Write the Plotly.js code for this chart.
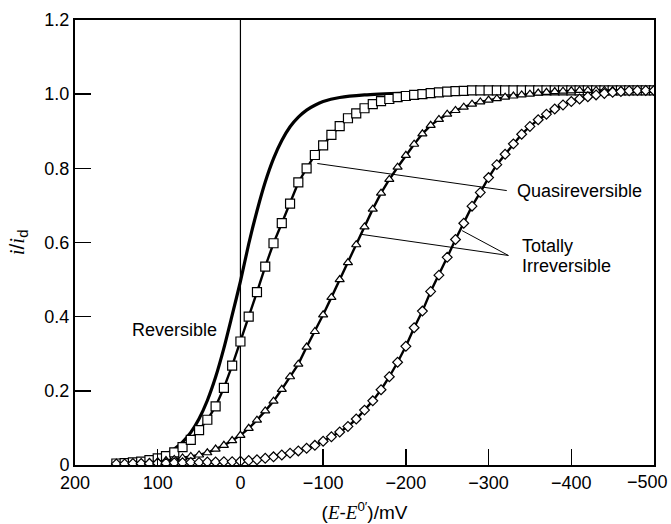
<!DOCTYPE html>
<html>
<head>
<meta charset="utf-8">
<script src="https://cdn.plot.ly/plotly-3.0.1.min.js"></script>
<style>html,body{margin:0;padding:0;background:#fff;}#chart{width:671px;height:524px;}</style>
</head>
<body>
<div id="chart"></div>
<script>
// Potential E - E0' (mV)
const potE = [150,140,130,120,110,100,90,80,70,60,50,40,30,20,10,0,-10,-20,-30,-40,-50,-60,-70,-80,-90,-100,-110,-120,-130,-140,-150,-160,-170,-180,-190,-200,-210,-220,-230,-240,-250,-260,-270,-280,-290,-300,-310,-320,-330,-340,-350,-360,-370,-380,-390,-400,-410,-420,-430,-440,-450,-460,-470,-480,-490,-500];

// Reversible (solid line)
const revE = [150,130,120,110,100,90,80,70,60,50,40,30,20,10,0,-10,-20,-30,-40,-50,-60,-70,-80,-90,-100,-120,-150,-200,-230];
const revI = [0.003,0.006,0.009,0.014,0.020,0.029,0.043,0.062,0.088,0.125,0.174,0.237,0.315,0.404,0.495,0.596,0.685,0.763,0.826,0.875,0.912,0.938,0.957,0.970,0.980,0.991,0.998,1.003,1.005];

// Quasireversible (squares)
const quasiI = [0.004,0.005,0.007,0.009,0.013,0.018,0.024,0.034,0.048,0.068,0.094,0.122,0.158,0.208,0.268,0.333,0.400,0.466,0.535,0.598,0.652,0.705,0.762,0.800,0.836,0.862,0.890,0.914,0.935,0.948,0.962,0.973,0.981,0.987,0.992,0.995,0.998,1.000,1.003,1.005,1.007,1.008,1.009,1.010,1.010,1.010,1.010,1.010,1.010,1.010,1.010,1.010,1.010,1.010,1.010,1.010,1.010,1.010,1.010,1.010,1.010,1.010,1.010,1.010,1.010,1.010];

// Totally irreversible, faster (triangles)
const irr1I = [0.002,0.003,0.004,0.005,0.007,0.009,0.012,0.015,0.019,0.023,0.027,0.033,0.043,0.053,0.066,0.080,0.099,0.121,0.146,0.172,0.204,0.238,0.272,0.318,0.360,0.405,0.452,0.500,0.546,0.594,0.642,0.690,0.733,0.770,0.803,0.835,0.865,0.893,0.916,0.932,0.946,0.956,0.965,0.973,0.979,0.984,0.988,0.992,0.995,0.998,1.000,1.003,1.005,1.007,1.008,1.009,1.010,1.010,1.010,1.010,1.010,1.010,1.010,1.010,1.010,1.010];

// Totally irreversible, slower (diamonds)
const irr2I = [0.003,0.003,0.004,0.004,0.004,0.005,0.005,0.006,0.006,0.007,0.007,0.008,0.008,0.009,0.009,0.010,0.012,0.014,0.018,0.022,0.027,0.032,0.038,0.045,0.053,0.064,0.076,0.089,0.104,0.124,0.148,0.173,0.203,0.238,0.277,0.320,0.370,0.415,0.468,0.512,0.560,0.608,0.652,0.698,0.735,0.775,0.810,0.838,0.866,0.892,0.913,0.931,0.946,0.960,0.971,0.980,0.987,0.993,0.998,1.002,1.005,1.007,1.009,1.010,1.010,1.010];

const xTickVals = [200,100,0,-100,-200,-300,-400,-500];
const xTickText = ['200','100','0','\u2212100','\u2212200','\u2212300','\u2212400',''];
const xLastTickLabel = '\u2212500';   // drawn right-aligned so it stays inside the page, as in the original
const yTickVals = [0,0.2,0.4,0.6,0.8,1.0,1.2];
const yTickText = ['0','0.2','0.4','0.6','0.8','1.0','1.2'];

const labels = ['Reversible','Quasireversible','Totally','Irreversible'];

const FONT = 'Liberation Sans, Arial, Helvetica, sans-serif';
const SERIF = "Liberation Serif, Times New Roman, serif";
const it = s => '<span style="font-family:' + SERIF + ';font-style:italic">' + s + '</span>';

const mk = (sym, size) => ({symbol: sym, size: size, color: '#ffffff', line: {color: '#000', width: 1.2}});

const traces = [
  {x: revE, y: revI, mode: 'lines', line: {color: '#000', width: 3.2, shape: 'spline', smoothing: 0.6}, name: 'Reversible', hoverinfo: 'x+y'},
  {x: potE, y: quasiI, mode: 'lines+markers', line: {color: '#000', width: 2.4}, marker: mk('square', 9), name: 'Quasireversible'},
  {x: potE, y: irr1I, mode: 'lines+markers', line: {color: '#000', width: 2.4}, marker: mk('triangle-up', 8), name: 'Totally irreversible 1'},
  {x: potE, y: irr2I, mode: 'lines+markers', line: {color: '#000', width: 2.4}, marker: mk('diamond', 7.5), name: 'Totally irreversible 2'}
];

const axisCommon = {
  autorange: false,
  tickmode: 'array',
  ticks: 'inside', ticklen: 16, tickwidth: 1.4, tickcolor: '#000',
  showline: true, linecolor: '#000', linewidth: 2, mirror: true,
  showgrid: false, zeroline: false,
  layer: 'above traces',
  tickfont: {family: FONT, size: 18, color: '#000'}
};

const W = 671, H = 524, M = {l: 75, r: 17, t: 20, b: 59};
const plotW = W - M.l - M.r, plotH = H - M.t - M.b;

const layout = {
  width: W, height: H,
  margin: M,
  paper_bgcolor: '#fff', plot_bgcolor: '#fff',
  showlegend: false,
  font: {family: FONT, size: 18, color: '#000'},
  xaxis: Object.assign({}, axisCommon, {
    range: [200, -500],
    tickvals: xTickVals, ticktext: xTickText,
    title: {text: '(' + it('E') + '-' + it('E') + '<sup>0\u2032</sup>)/mV', font: {family: FONT, size: 19}, standoff: 14}
  }),
  yaxis: Object.assign({}, axisCommon, {
    range: [0, 1.2],
    tickvals: yTickVals, ticktext: yTickText,
    title: {text: it('i') + '/' + it('i') + '<sub>d</sub>', font: {family: FONT, size: 21}, standoff: 14}
  }),
  shapes: [
    {type: 'line', xref: 'x', yref: 'paper', x0: 0, x1: 0, y0: 0, y1: 1, line: {color: '#000', width: 1.2}, layer: 'below'},
    {type: 'line', xref: 'x', yref: 'y', x0: -93, y0: 0.813, x1: -322, y1: 0.74, line: {color: '#000', width: 1}},
    {type: 'line', xref: 'x', yref: 'y', x0: -146, y0: 0.622, x1: -324, y1: 0.565, line: {color: '#000', width: 1}},
    {type: 'line', xref: 'x', yref: 'y', x0: -268, y0: 0.632, x1: -324, y1: 0.565, line: {color: '#000', width: 1}}
  ],
  annotations: [
    {text: labels[0], xref: 'x', yref: 'y', x: 80, y: 0.365, xanchor: 'center', yanchor: 'middle', showarrow: false, font: {family: FONT, size: 18}},
    {text: labels[1], xref: 'x', yref: 'y', x: -332, y: 0.74, xanchor: 'left', yanchor: 'middle', showarrow: false, font: {family: FONT, size: 18}},
    {text: labels[2], xref: 'x', yref: 'y', x: -338, y: 0.591, xanchor: 'left', yanchor: 'middle', showarrow: false, font: {family: FONT, size: 18}},
    {text: labels[3], xref: 'x', yref: 'y', x: -338, y: 0.536, xanchor: 'left', yanchor: 'middle', showarrow: false, font: {family: FONT, size: 18}},
    {text: xLastTickLabel, xref: 'paper', yref: 'paper', x: 1 + 15 / plotW, y: -17 / plotH, xanchor: 'right', yanchor: 'middle', showarrow: false, borderpad: 0, font: {family: FONT, size: 18}}
  ]
};

Plotly.newPlot('chart', traces, layout, {displayModeBar: false, staticPlot: true});
</script>
</body>
</html>
